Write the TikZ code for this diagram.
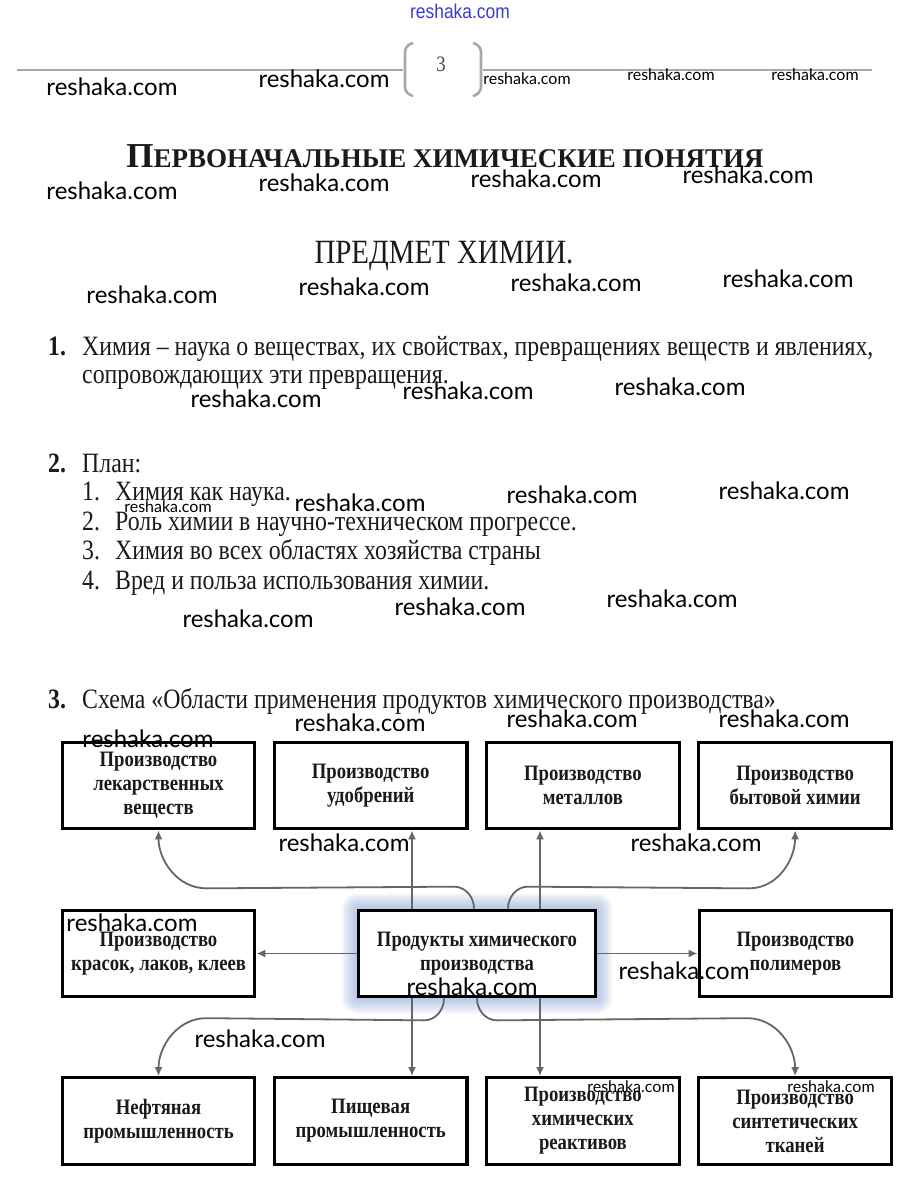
\documentclass[tikz,border=0pt]{standalone}
\usepackage{fontspec}
\setmainfont[FakeStretch=0.85]{Liberation Serif}
\newfontfamily\titlefont{Liberation Serif}
\newfontfamily\wmfont{Lato}
\newfontfamily\linkfont[FakeStretch=0.87]{Liberation Sans}
\usetikzlibrary{arrows.meta,positioning,calc,backgrounds}
\definecolor{ink}{HTML}{1A1A1A}
\definecolor{arrgray}{HTML}{666666}
\definecolor{rulegray}{HTML}{A8A8A8}
\definecolor{glowblue}{HTML}{8FA9D6}
\definecolor{linkblue}{HTML}{3B3BD0}

\begin{document}
\begin{tikzpicture}[x=1pt,y=1pt,node distance=16.5pt and 16.5pt,
box/.style={draw=black,line width=3.2pt,fill=white,align=center,minimum width=192.5pt,minimum height=86.5pt,inner sep=2pt,text=ink,font=\bfseries\fontsize{22}{24}\selectfont},
arr/.style={draw=arrgray,line width=1.8pt,-{Latex[length=9pt,width=8pt]}},
txt/.style={anchor=base west,inner sep=0pt,text=ink,font=\fontsize{28}{29}\selectfont},
wm/.style={inner sep=0pt,font=\wmfont\fontsize{24}{24}\selectfont},
wms/.style={inner sep=0pt,font=\wmfont\fontsize{16}{16}\selectfont}]
\useasboundingbox (0,0) rectangle (920,-1191);

\node[inner sep=0pt,text=linkblue,font=\linkfont\fontsize{20}{20}\selectfont] (link) at (460,-11) {reshaka.com};
\draw[rulegray,line width=2pt] (17,-70) -- (403,-70) (483,-70) -- (872,-70);
\draw[rulegray,line width=2.6pt,rounded corners=6pt] (413,-43) -- (405,-46) -- (405,-93) -- (413,-96);
\draw[rulegray,line width=2.6pt,rounded corners=6pt] (473,-43) -- (481,-46) -- (481,-93) -- (473,-96);
\node[inner sep=0pt,text=ink!80,font=\fontsize{22}{22}\selectfont] (page) at (441,-64) {3};

\node[anchor=base,inner sep=0pt,text=ink,font=\titlefont\bfseries] (title) at (445,-167)
  {\fontsize{35}{35}\selectfont П\fontsize{27}{27}\selectfont ЕРВОНАЧАЛЬНЫЕ ХИМИЧЕСКИЕ ПОНЯТИЯ};
\node[anchor=base,inner sep=0pt,text=ink,font=\fontsize{34}{34}\selectfont] (subj) at (444,-263) {ПРЕДМЕТ ХИМИИ.};

\node[txt] (n1) at (48,-355) {\bfseries 1.};
\node[txt] (t1a) at (82,-355) {Химия – наука о веществах, их свойствах, превращениях веществ и явлениях,};
\node[txt] (t1b) at (82,-383) {сопровождающих эти превращения.};
\node[txt] (n2) at (48,-472) {\bfseries 2.};
\node[txt] (t2) at (82,-472) {План:};
\foreach \n/\t/\y in {1/Химия как наука./500,2/Роль химии в научно-техническом прогрессе./530,
  3/Химия во всех областях хозяйства страны/559,4/Вред и польза использования химии./589}{
  \node[txt] (p\n) at (82,-\y) {\n.};
  \node[txt] (plan\n) at (115,-\y) {\t};}
\node[txt] (n3) at (48,-708) {\bfseries 3.};
\node[txt] (t3) at (82,-708) {Схема «Области применения продуктов химического производства»};

\node[box] (lek) at (158.5,-785.5) {Производство\\лекарственных\\веществ};
\node[box,right=of lek] (udob) {Производство\\удобрений};
\node[box,right=of udob] (met) {Производство\\металлов};
\node[box,right=of met] (byt) {Производство\\бытовой химии};
\node[box] (kras) at (158.5,-953.5) {Производство\\красок, лаков, клеев};
\node[box,minimum width=237pt] (prod) at (477,-953.5) {Продукты химического\\производства};
\node[box] (polim) at (795.5,-953.5) {Производство\\полимеров};
\node[box] (neft) at (158.5,-1121) {Нефтяная\\промышленность};
\node[box,right=of neft] (pish) {Пищевая\\промышленность};
\node[box,right=of pish] (reak) {Производство\\химических\\реактивов};
\node[box,right=of reak] (tkan) {Производство\\синтетических\\тканей};

\begin{scope}[on background layer]
\fill[white] (0,0) rectangle (920,-1191);
\foreach \g in {15,13,...,1}
  \fill[glowblue,opacity=0.1,rounded corners=\g pt] ($(prod.south west)+(-\g,-\g)$) rectangle ($(prod.north east)+(\g,\g)$);
\end{scope}

\coordinate (u1) at ([xshift=-65pt]prod.north);
\coordinate (u2) at ([xshift=63pt]prod.north);
\coordinate (d1) at ([xshift=-65pt]prod.south);
\coordinate (d2) at ([xshift=63pt]prod.south);
\coordinate (ul) at ([xshift=-3pt]prod.north);
\coordinate (ur) at ([xshift=31pt]prod.north);
\coordinate (dl) at ([xshift=-33pt]prod.south);
\coordinate (dr) at (prod.south);
\draw[arr] (u1) -- (u1 |- udob.south);
\draw[arr] (u2) -- (u2 |- met.south);
\draw[arr] (d1) -- (d1 |- pish.north);
\draw[arr] (d2) -- (d2 |- reak.north);
\draw[arr] (prod.west) -- (kras.east);
\draw[arr] (prod.east) -- (polim.west);
\draw[arr] (ul) to[out=90,in=0] ++(-20,22) -- ($(lek.south)+(48,-58)$) to[out=180,in=-90] (lek.south);
\draw[arr] (ur) to[out=90,in=180] ++(20,22) -- ($(byt.south)+(-46,-58)$) to[out=0,in=-90] (byt.south);
\draw[arr] (dl) to[out=-90,in=0] ++(-20,-22) -- ($(neft.north)+(48,58)$) to[out=180,in=90] (neft.north);
\draw[arr] (dr) to[out=-90,in=180] ++(20,-22) -- ($(tkan.north)+(-48,58)$) to[out=0,in=90] (tkan.north);

\foreach \x/\y [count=\i] in {112/87,324/79,112/191,324/183,536/179,748/175,152/295,364/287,576/283,788/279,
  256/399,468/391,680/387,360/503,572/495,784/491,248/619,460/607,672/599,360/723,572/719,784/719,
  148/739,344/843,696/843,132/923,684/971,472/987,260/1039}
  \node[wm] (wm\i) at (\x,-\y) {reshaka.com};
\foreach \x/\y [count=\i] in {527/79,671/75,815/75,168/507,631/1087,831/1087}
  \node[wms] (wms\i) at (\x,-\y) {reshaka.com};
\end{tikzpicture}
\end{document}
